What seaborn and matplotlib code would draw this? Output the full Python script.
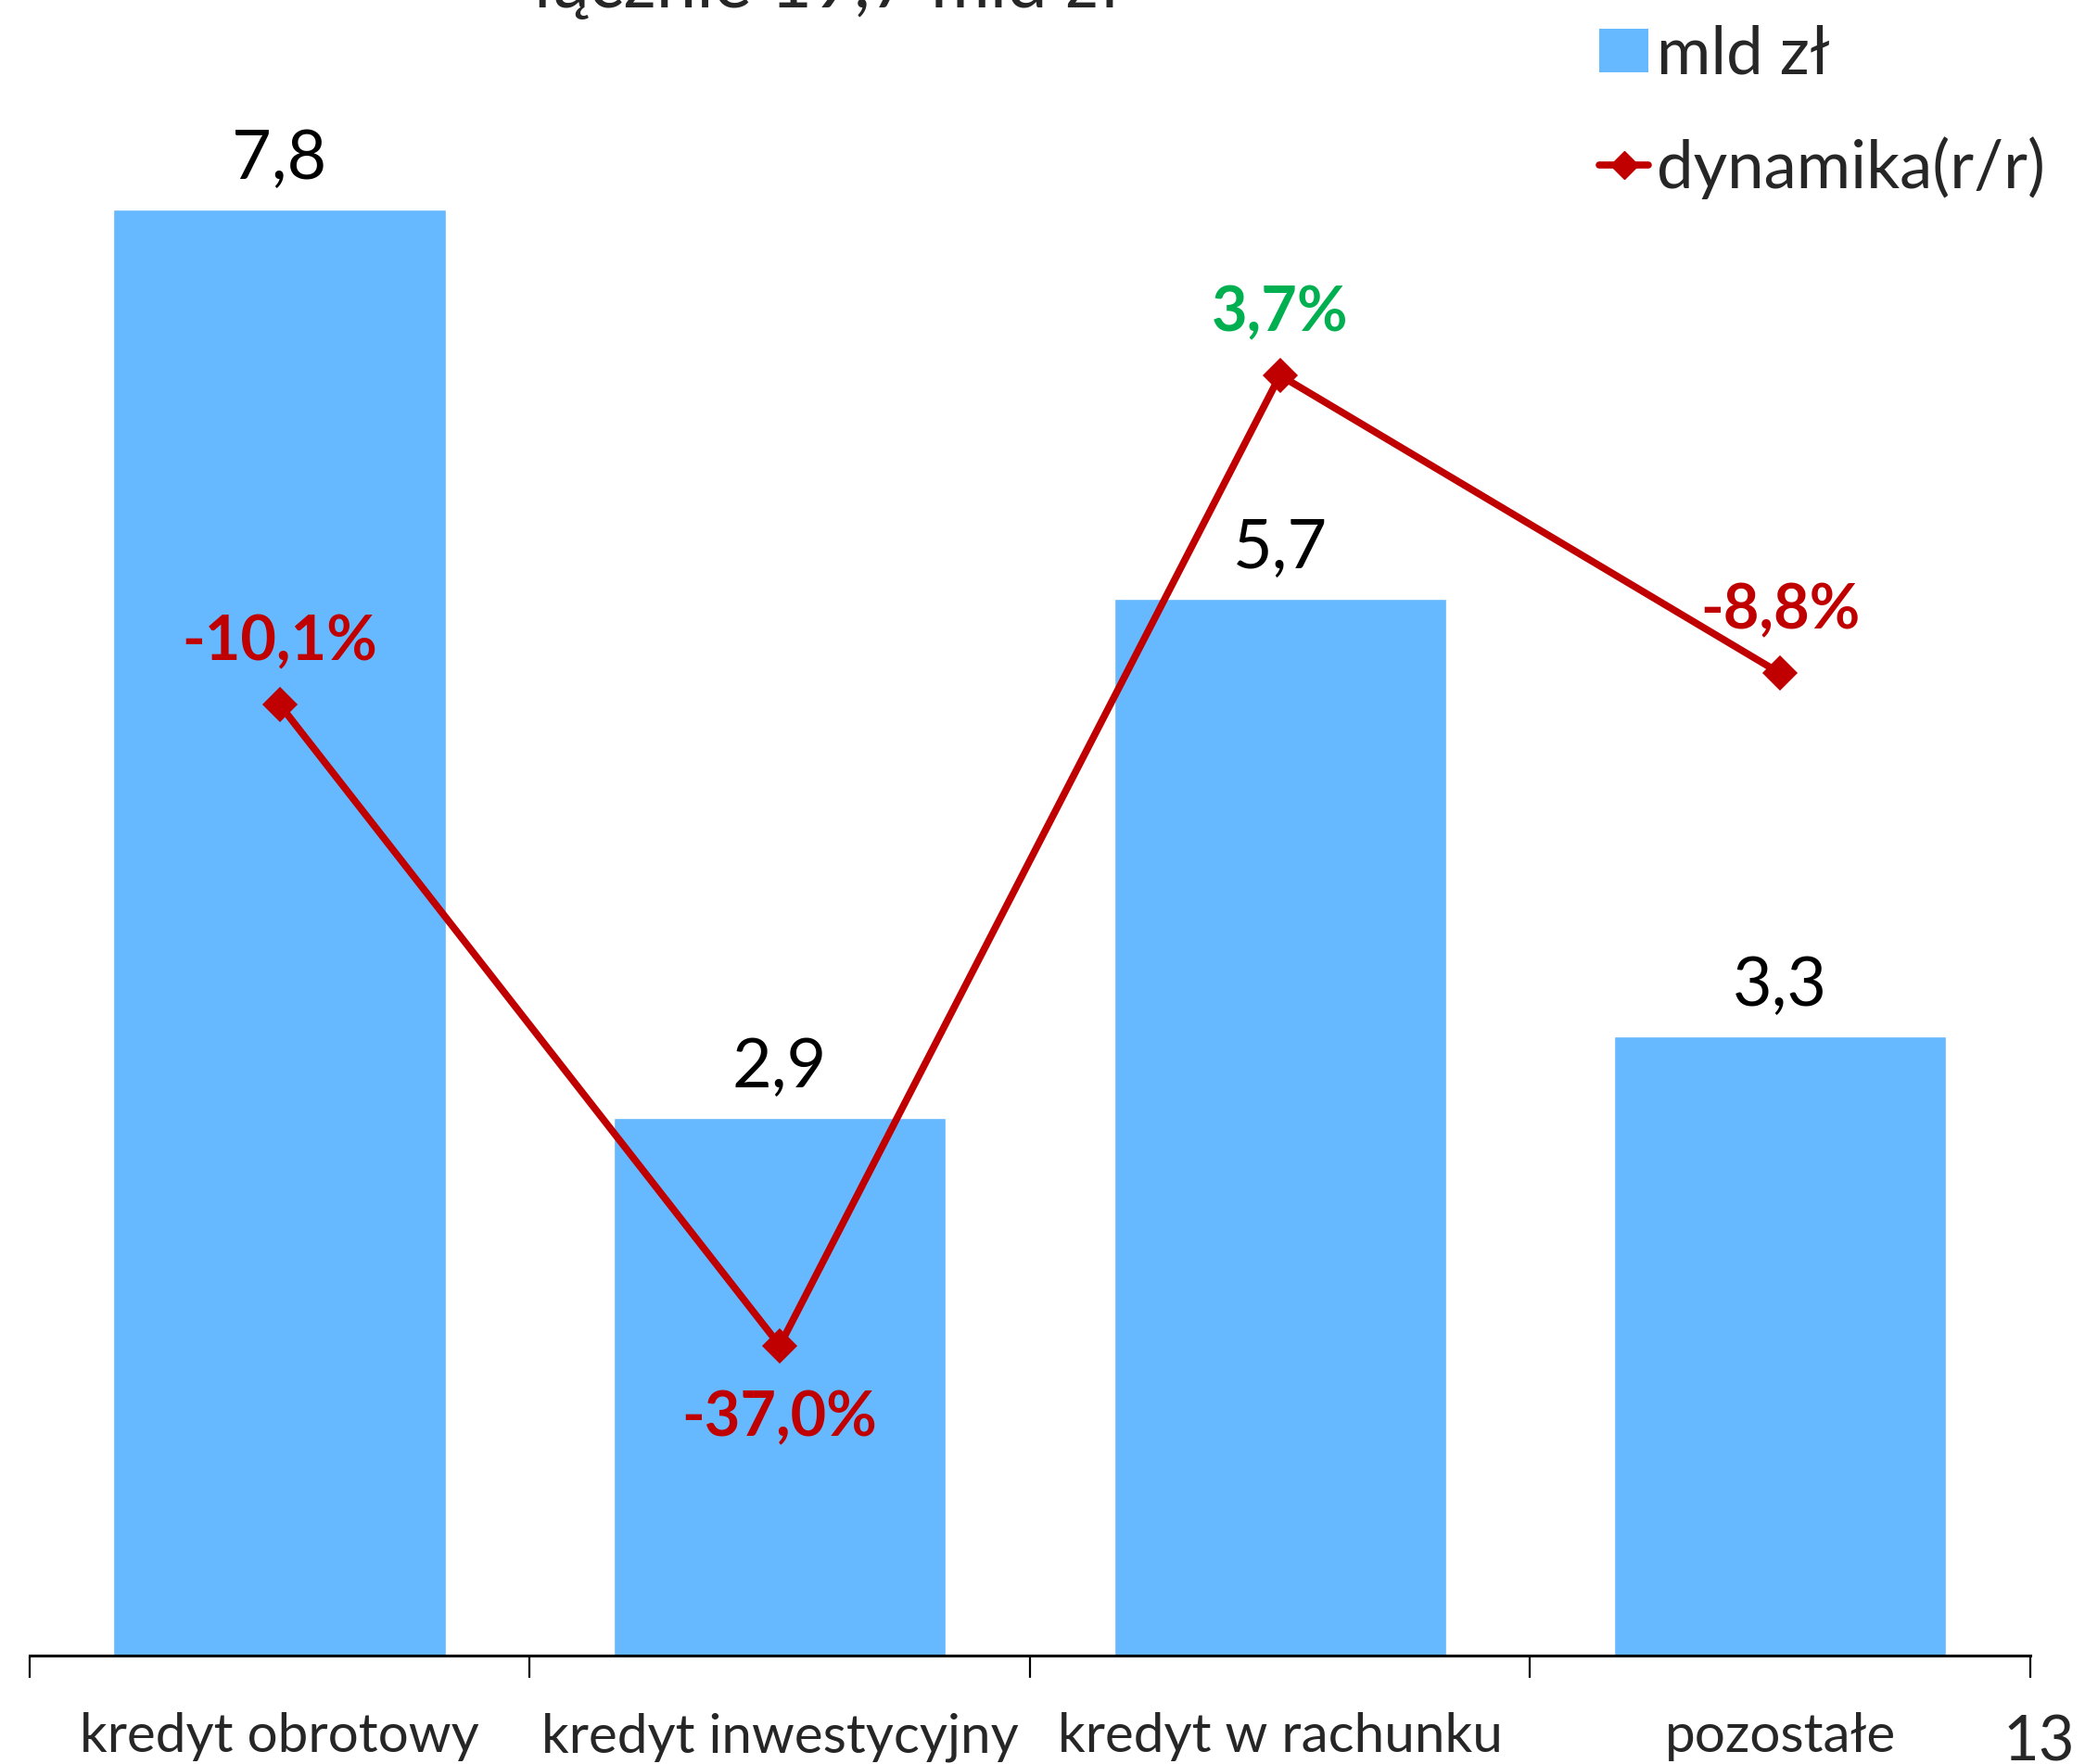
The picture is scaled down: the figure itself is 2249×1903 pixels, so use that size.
import numpy as np
import pandas as pd
import matplotlib
matplotlib.use('Agg')
from matplotlib import pyplot as plt
from matplotlib.lines import Line2D
from matplotlib.patches import Patch
import seaborn as sns

# data
categories = ['kredyt obrotowy', 'kredyt inwestycyjny', 'kredyt w rachunku', 'pozostałe']
value_bn = [7.8, 2.9, 5.7, 3.34]
value_labels = ['7,8', '2,9', '5,7', '3,3']
growth_pct = [-10.1, -37.0, 3.7, -8.8]
growth_labels = ['-10,1%', '-37,0%', '3,7%', '-8,8%']
title_text = 'łącznie 19,7 mld zł'
page_number = '13'

BAR_COLOR = '#66B9FF'
LINE_COLOR = '#C00000'
GREEN = '#00B050'

sns.set_style('white')
plt.rcParams['font.family'] = ['Lato', 'DejaVu Sans']

df = pd.DataFrame({'kategoria': categories, 'mld': value_bn, 'dyn': growth_pct})

fig = plt.figure(figsize=(22.49, 19.03), dpi=100)
ax = fig.add_axes([0.0141, 0.0615, 0.9597, 0.946])

sns.barplot(data=df, x='kategoria', y='mld', ax=ax, color=BAR_COLOR,
            saturation=1, width=0.664)
ax.set_ylim(0, 9)
ax.set_xlim(-0.5, 3.5)
ax.set_xlabel('')
ax.set_ylabel('')
ax.set_yticks([])
for sp in ['top', 'right', 'left']:
    ax.spines[sp].set_visible(False)
ax.spines['bottom'].set_linewidth(2.2)
ax.spines['bottom'].set_color('black')

ax.set_xticks(range(len(categories)))
ax.set_xticklabels(categories, fontsize=42)
ax.tick_params(axis='x', which='major', length=0, pad=44)
# category boundary ticks
ax.set_xticks(np.arange(-0.5, len(categories), 1.0), minor=True)
ax.tick_params(axis='x', which='minor', bottom=True, length=17, width=1.6,
               color='black', direction='out')

for i, (v, lab) in enumerate(zip(value_bn, value_labels)):
    ax.annotate(lab, (i, v), xytext=(0, 14), textcoords='offset points',
                ha='center', va='bottom', fontsize=53, color='black')

ax2 = ax.twinx()
sns.pointplot(data=df, x='kategoria', y='dyn', ax=ax2, color=LINE_COLOR,
              markers='D', markersize=15, linewidth=5.5, errorbar=None)
ax2.set_ylim(-50, 20)
ax2.set_xlim(-0.5, 3.5)
ax2.set_yticks([])
ax2.set_ylabel('')
ax2.set_xlabel('')
for sp in ['top', 'right', 'left', 'bottom']:
    ax2.spines[sp].set_visible(False)

for i, (v, lab) in enumerate(zip(growth_pct, growth_labels)):
    col = GREEN if v > 0 else LINE_COLOR
    off = -57 if v < -30 else 48
    ax2.annotate(lab, (i, v), xytext=(0, off), textcoords='offset points',
                 ha='center', va='center', fontsize=48, fontweight='bold', color=col)

handles = [Patch(facecolor=BAR_COLOR, edgecolor='none'),
           Line2D([0], [0], color=LINE_COLOR, lw=5.5, marker='D', markersize=15)]
fig.legend(handles, ['mld zł', 'dynamika(r/r)'], loc='upper left',
           bbox_to_anchor=(0.767, 0.986), frameon=False, fontsize=51,
           handlelength=0.75, handleheight=0.65, handletextpad=0.12, labelspacing=0.78,
           borderaxespad=0, borderpad=0)

fig.text(0.255, 0.996, title_text, ha='left', va='baseline', fontsize=56)
fig.text(0.995, 0.002, page_number, ha='right', va='baseline', fontsize=48)

fig.savefig('out.png', dpi=100)
